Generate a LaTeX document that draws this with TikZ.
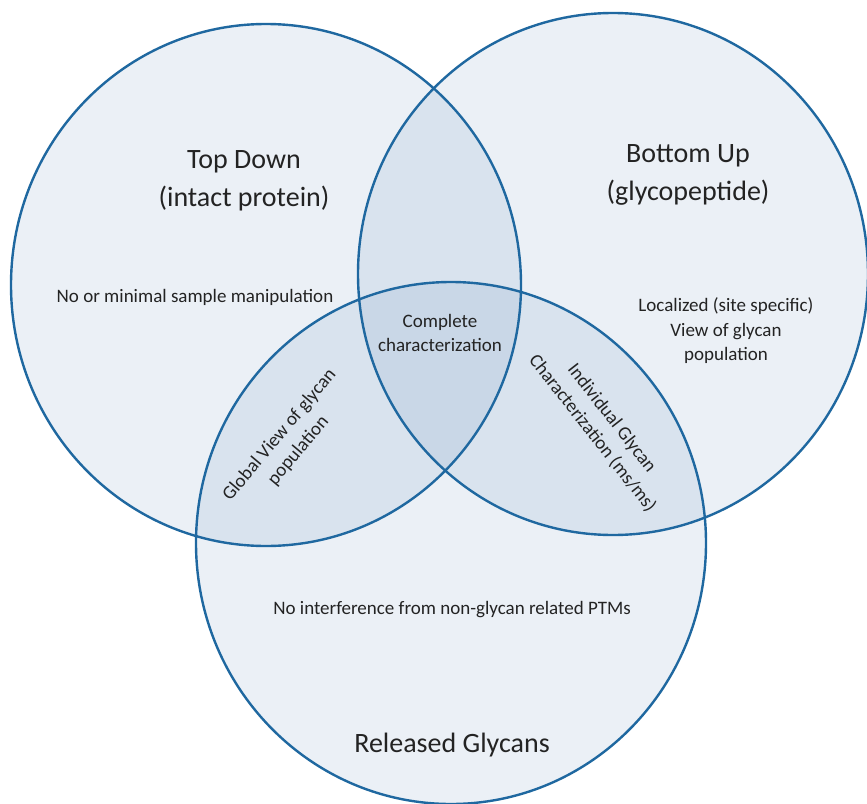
\documentclass[tikz,border=0pt]{standalone}
\usepackage{fontspec}
\setmainfont{Carlito}
\definecolor{ring}{RGB}{31,104,160}
\definecolor{tint}{RGB}{65,115,170}
\definecolor{ink}{RGB}{35,35,35}
\begin{document}
\begin{tikzpicture}[x=1pt,y=-1pt,
  set/.style={fill=tint,fill opacity=0.1},
  rim/.style={draw=ring,line width=2.4pt},
  title/.style={font=\fontsize{28}{38}\selectfont,align=center,text=ink,inner sep=0pt},
  note/.style={font=\fontsize{19}{24.5}\selectfont,align=center,text=ink,inner sep=0pt}]
\useasboundingbox[fill=white] (0,0) rectangle (867,803);
% centres of the three sets
\coordinate (td) at (266,285);
\coordinate (bu) at (613,274);
\coordinate (rg) at (451,543);
% translucent fills, overlaps darken
\foreach \c in {td,bu,rg}
  \fill[set] (\c) ellipse [x radius=255pt, y radius=261pt];
% outlines
\foreach \c in {td,bu,rg}
  \draw[rim] (\c) ellipse [x radius=255pt, y radius=261pt];
% set titles
\node[title] (tdname) at (244,181) {Top Down\\(intact protein)};
\node[title] (buname) at (688,175) {Bottom Up\\(glycopeptide)};
\node[title] (rgname) at (452,745) {Released Glycans};
% set notes
\node[note] (tdnote) at (195,297) {No or minimal sample manipulation};
\node[note] (bunote) at (726,331) {Localized (site specific)\\View of glycan\\population};
\node[note] (rgnote) at (452,610) {No interference from non-glycan related PTMs};
% overlap notes
\node[note] (allnote) at (440,333) {Complete\\characterization};
\node[note,rotate=50] (tdrg) at (289,443) {Global View of glycan\\population};
\node[note,rotate=-52] (burg) at (602,426) {Individual Glycan\\Characterization (ms/ms)};
\end{tikzpicture}
\end{document}
